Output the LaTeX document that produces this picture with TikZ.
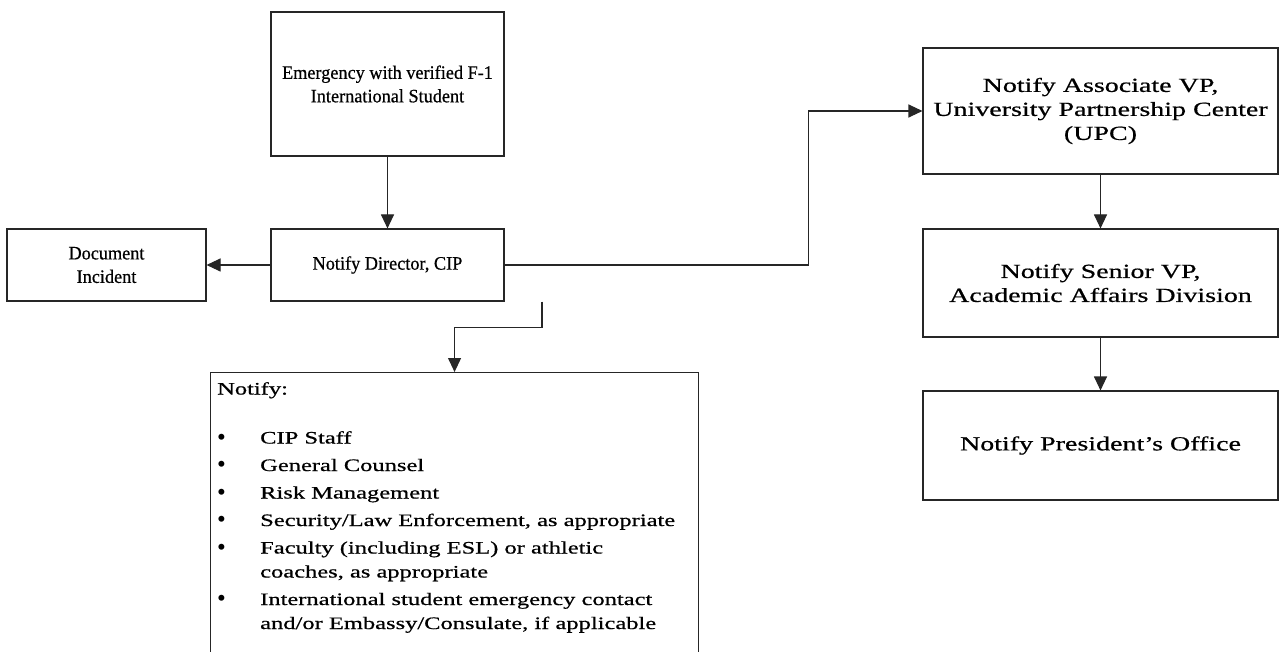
\documentclass[tikz,border=0pt]{standalone}
\usepackage{fontspec}
\setmainfont{Liberation Serif}
\newfontfamily\narrowserif[FakeStretch=0.96,FakeBold=0.6]{Liberation Serif}
\newfontfamily\wideserif[FakeStretch=1.4,FakeBold=0.6]{Liberation Serif}
\newfontfamily\bulletserif{Liberation Serif}
\usetikzlibrary{arrows.meta}
\newcommand{\blt}{\makebox[43pt][l]{\raisebox{-1.5pt}{\bulletserif\fontsize{25}{24}\selectfont\textbullet}}}
\begin{document}
\begin{tikzpicture}[x=1pt,y=-1pt,
  box/.style={draw=black!85, line width=1.1pt, rectangle, inner sep=0pt, align=center},
  leftfont/.style={font=\narrowserif\fontsize{19}{23.5}\selectfont},
  rightfont/.style={font=\wideserif\fontsize{20}{24}\selectfont},
  arr/.style={draw=black!85, line width=1.1pt, -{Triangle[length=14pt,width=13pt]}}]
  \useasboundingbox (0,0) rectangle (1280,652);
  \fill[white] (0,0) rectangle (1280,652);
  \clip (0,0) rectangle (1280,652);

  % left column
  \node[box, leftfont, minimum width=233, minimum height=144] (emerg) at (387.5,84)
    {Emergency with verified F-1\\International Student};
  \node[box, leftfont, minimum width=233, minimum height=72] (director) at (387.5,265)
    {Notify Director, CIP};
  \node[box, leftfont, minimum width=199, minimum height=72] (document) at (106.5,265)
    {Document\\Incident};

  % right column
  \node[box, rightfont, minimum width=355, minimum height=126] (upc) at (1100.5,111)
    {Notify Associate VP,\\University Partnership Center\\(UPC)};
  \node[box, rightfont, minimum width=355, minimum height=108] (senior) at (1100.5,283)
    {Notify Senior VP,\\Academic Affairs Division};
  \node[box, rightfont, minimum width=355, minimum height=109] (president) at (1100.5,445.5)
    {Notify President’s Office};

  % notification list
  \node[box, anchor=north west, minimum width=488, minimum height=300] (notifybox) at (210,372) {};
  \node[anchor=north west, align=left, inner sep=0pt,
        font=\wideserif\fontsize{17.5}{24}\selectfont] (notifytext) at (217,382)
    {Notify:\\[25pt]
     \blt CIP Staff\\[3.5pt]
     \blt General Counsel\\[3.5pt]
     \blt Risk Management\\[3.5pt]
     \blt Security/Law Enforcement, as appropriate\\[3.5pt]
     \blt Faculty (including ESL) or athletic\\
     \hspace*{43pt}coaches, as appropriate\\[3.5pt]
     \blt International student emergency contact\\
     \hspace*{43pt}and/or Embassy/Consulate, if applicable};

  % connectors
  \draw[arr] (emerg.south) -- (director.north);
  \draw[arr] (director.west) -- (document.east);
  \draw[arr] (director.east) -- ++(304,0) |- (upc.west);
  \draw[arr] ([xshift=154.5pt]director.south) -- ++(0,26) -| (notifybox.north);
  \draw[arr] (upc.south) -- (senior.north);
  \draw[arr] (senior.south) -- (president.north);
\end{tikzpicture}
\end{document}
